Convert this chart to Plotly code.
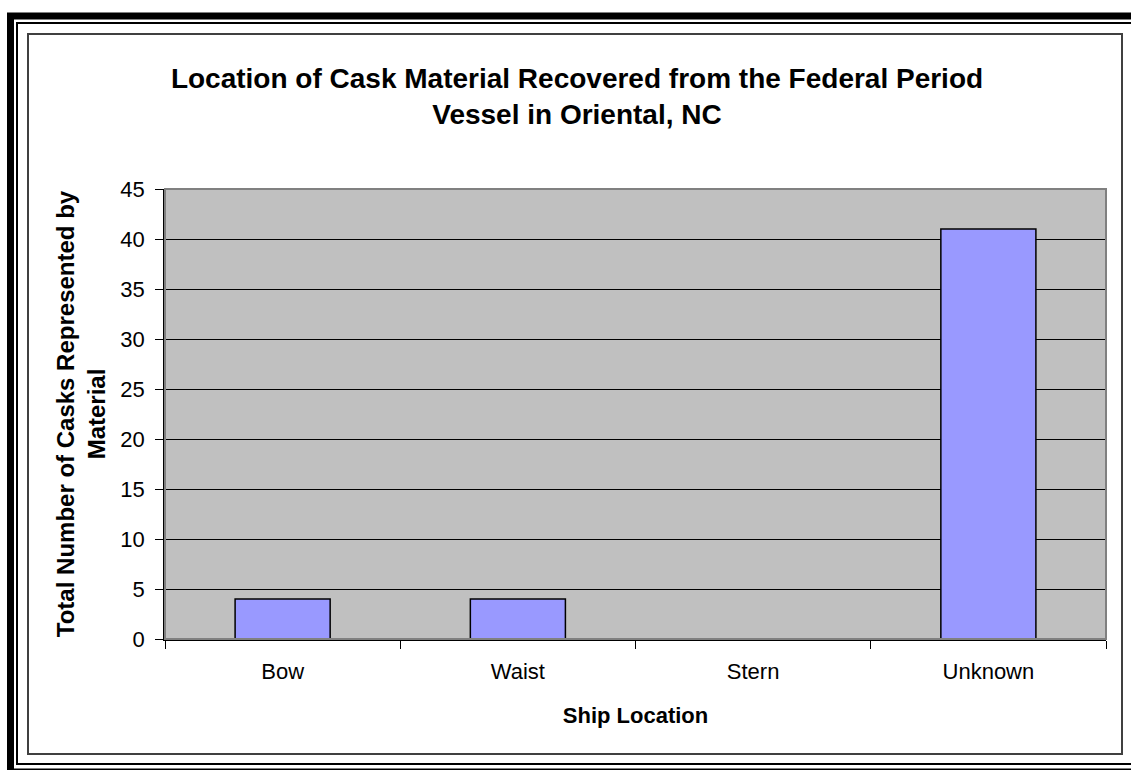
import plotly.graph_objects as go

categories = ["Bow", "Waist", "Stern", "Unknown"]
casks = [4, 4, 0, 41]
y_ticks = [0, 5, 10, 15, 20, 25, 30, 35, 40, 45]

W, H = 1131, 770
L, R, T, B = 165, 1106, 189, 639  # plot area in pixels
pw, ph = R - L, B - T


def px(x):
    return (x - L) / pw


def py(y):
    return (B - y) / ph


FONT = "Liberation Sans, Arial, sans-serif"

fig = go.Figure()
fig.add_trace(go.Bar(
    x=categories, y=casks,
    marker=dict(color="#9999FF", line=dict(color="#000000", width=1.5)),
    width=0.404,
    hoverinfo="x+y",
))

shapes = [
    # plot-area border (gray)
    dict(type="rect", xref="paper", yref="paper", x0=0, y0=0, x1=1, y1=1,
         line=dict(color="#808080", width=2), layer="above"),
    # outer thick black frame
    dict(type="rect", xref="paper", yref="paper",
         x0=px(10.5), y0=py(16), x1=px(1145), y1=py(772),
         line=dict(color="#000000", width=7)),
    # thin black frame
    dict(type="rect", xref="paper", yref="paper",
         x0=px(17), y0=py(23), x1=px(1133), y1=py(764),
         line=dict(color="#000000", width=2)),
    # inner gray frame
    dict(type="rect", xref="paper", yref="paper",
         x0=px(28), y0=py(34), x1=px(1122), y1=py(754),
         line=dict(color="#404040", width=2)),
]

fig.update_layout(
    width=W, height=H,
    margin=dict(l=L, r=W - R, t=T, b=H - B, pad=0),
    paper_bgcolor="#FFFFFF",
    plot_bgcolor="#C0C0C0",
    font=dict(family=FONT, color="#000000", size=22),
    showlegend=False,
    bargap=0.596,
    title=dict(
        text="<b>Location of Cask Material Recovered from the Federal Period<br>Vessel in Oriental, NC</b>",
        font=dict(family=FONT, size=28, color="#000000"),
        x=577 / W, xanchor="center", xref="container",
        y=1 - 88 / H, yanchor="top", yref="container",
    ),
    xaxis=dict(
        type="category",
        showgrid=False,
        showline=True, linecolor="#000000", linewidth=1.5,
        ticks="outside", ticklen=8, tickcolor="#000000", tickwidth=1,
        tickson="boundaries",
        tickfont=dict(family=FONT, size=22, color="#000000"),
        ticklabelstandoff=12,
        title=dict(text="<b>Ship Location</b>",
                   font=dict(family=FONT, size=22, color="#000000"),
                   standoff=24),
        zeroline=False,
    ),
    yaxis=dict(
        range=[0, 45],
        tickvals=y_ticks,
        showgrid=True, gridcolor="#000000", gridwidth=1,
        showline=True, linecolor="#000000", linewidth=1.5,
        ticks="outside", ticklen=8, tickcolor="#000000", tickwidth=1,
        tickfont=dict(family=FONT, size=22, color="#000000"),
        ticklabelstandoff=6,
        title=dict(text="<b>Total Number of Casks Represented by<br>Material</b>",
                   font=dict(family=FONT, size=24, color="#000000"),
                   standoff=8),
        zeroline=False,
    ),
    shapes=shapes,
)

fig.write_html("out.html", config={"displayModeBar": False},
               post_script="document.body.style.margin='0';")
